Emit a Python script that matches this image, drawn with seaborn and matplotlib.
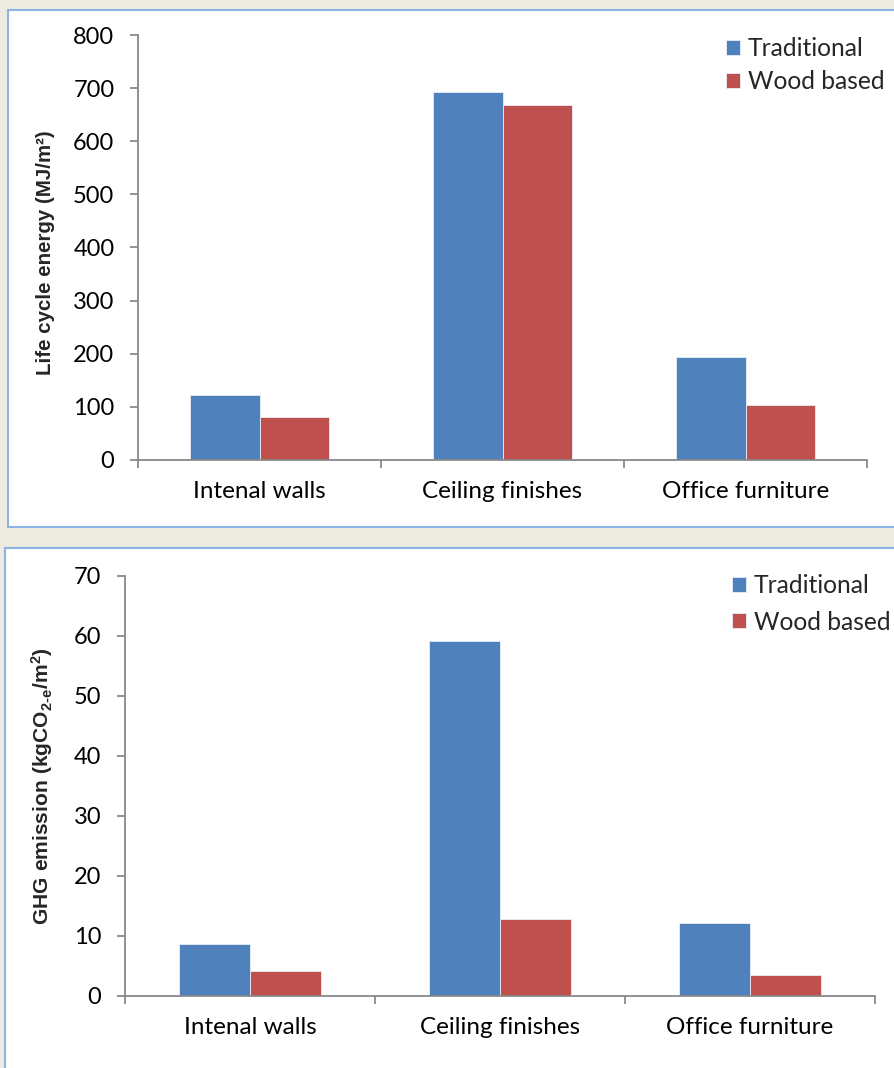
import matplotlib
matplotlib.use("Agg")
import matplotlib.pyplot as plt
from matplotlib.patches import Rectangle
import seaborn as sns
import pandas as pd

categories = ["Intenal walls", "Ceiling finishes", "Office furniture"]
series_names = ["Traditional", "Wood based"]
energy_traditional = [122, 693, 194]
energy_wood = [81, 669, 104]
ghg_traditional = [8.6, 59.2, 12.2]
ghg_wood = [4.1, 12.8, 3.5]
energy_ticks = [0, 100, 200, 300, 400, 500, 600, 700, 800]
ghg_ticks = [0, 10, 20, 30, 40, 50, 60, 70]

colors = ["#4F81BD", "#C0504D"]

sns.set_theme(style="white")
plt.rcParams["font.family"] = ["Lato", "DejaVu Sans"]
plt.rcParams["mathtext.fontset"] = "custom"
plt.rcParams["mathtext.rm"] = "Liberation Sans:bold"
plt.rcParams["mathtext.bf"] = "Liberation Sans:bold"
plt.rcParams["mathtext.it"] = "Liberation Sans:bold"

LABEL_FAMILY = ["Liberation Sans", "DejaVu Sans"]

W, H = 894, 1068
fig = plt.figure(figsize=(W / 100, H / 100), dpi=100)
fig.patch.set_facecolor("#EEECE1")

def fx(px):
    return px / W

def fy(py):
    return 1 - py / H

# white panels
for (x0, y0, x1, y1) in [(8, 10, 905, 527), (5, 548, 905, 1080)]:
    fig.patches.append(Rectangle((fx(x0), fy(y1)), fx(x1 - x0), (y1 - y0) / H,
                                 transform=fig.transFigure, facecolor="white",
                                 edgecolor="#8DB3E2", linewidth=1.5, zorder=-10))

def make_df(a, b):
    return pd.DataFrame({
        "category": categories * 2,
        "value": list(a) + list(b),
        "type": [series_names[0]] * 3 + [series_names[1]] * 3,
    })

def style_axes(ax, ticks, ylabel, legend_anchor, labelspacing, label_y, label_size):
    ax.set_facecolor("none")
    ax.set_xlim(-0.5, 2.5)
    ax.set_ylim(ticks[0], ticks[-1])
    ax.set_yticks(ticks)
    ax.set_xticks([0, 1, 2])
    ax.set_xticklabels(categories)
    ax.set_xticks([-0.5, 0.5, 1.5, 2.5], minor=True)
    ax.tick_params(axis="x", which="major", length=0, pad=15, labelsize=17.5, colors="black")
    ax.tick_params(axis="x", which="minor", length=6, width=1.3, color="#898989", direction="out", bottom=True)
    ax.tick_params(axis="y", which="major", length=6, width=1.3, color="#898989", pad=11,
                   labelsize=17, labelcolor="black", left=True)
    for s in ["top", "right"]:
        ax.spines[s].set_visible(False)
    for s in ["left", "bottom"]:
        ax.spines[s].set_color("#898989")
        ax.spines[s].set_linewidth(1.3)
    ax.set_xlabel("")
    ax.set_ylabel(ylabel, fontsize=label_size, fontweight="bold", family=LABEL_FAMILY)
    bb = ax.get_position()
    ax.yaxis.set_label_coords((55 / W - bb.x0) / bb.width, label_y)
    ax.legend(loc="upper left", bbox_to_anchor=legend_anchor, bbox_transform=fig.transFigure,
              frameon=False, fontsize=17.7, handlelength=0.58, handleheight=0.58,
              handletextpad=0.3, labelspacing=labelspacing, borderaxespad=0, borderpad=0)

# top chart
ax1 = fig.add_axes([fx(138), fy(460), fx(867 - 138), (460 - 35) / H])
sns.barplot(data=make_df(energy_traditional, energy_wood), x="category", y="value", hue="type",
            palette=colors, saturation=1, width=0.576, ax=ax1, errorbar=None,
            edgecolor="#E8EEF7", linewidth=0.6)
style_axes(ax1, energy_ticks, "Life cycle energy (MJ/m²)", (fx(726), fy(37)), 0.4, 0.487, 14.8)

# bottom chart
ax2 = fig.add_axes([fx(125), fy(996), fx(875 - 125), (996 - 576) / H])
sns.barplot(data=make_df(ghg_traditional, ghg_wood), x="category", y="value", hue="type",
            palette=colors, saturation=1, width=0.568, ax=ax2, errorbar=None,
            edgecolor="#E8EEF7", linewidth=0.6)
style_axes(ax2, ghg_ticks,
           r"$\mathbf{GHG\ emission\ (kgCO}_{\mathbf{2\text{-}e}}\mathbf{/m}^{\mathbf{2}}\mathbf{)}$",
           (fx(732), fy(574)), 0.55, 0.5, 15.1)

fig.savefig("out.png", dpi=100, facecolor=fig.get_facecolor())
